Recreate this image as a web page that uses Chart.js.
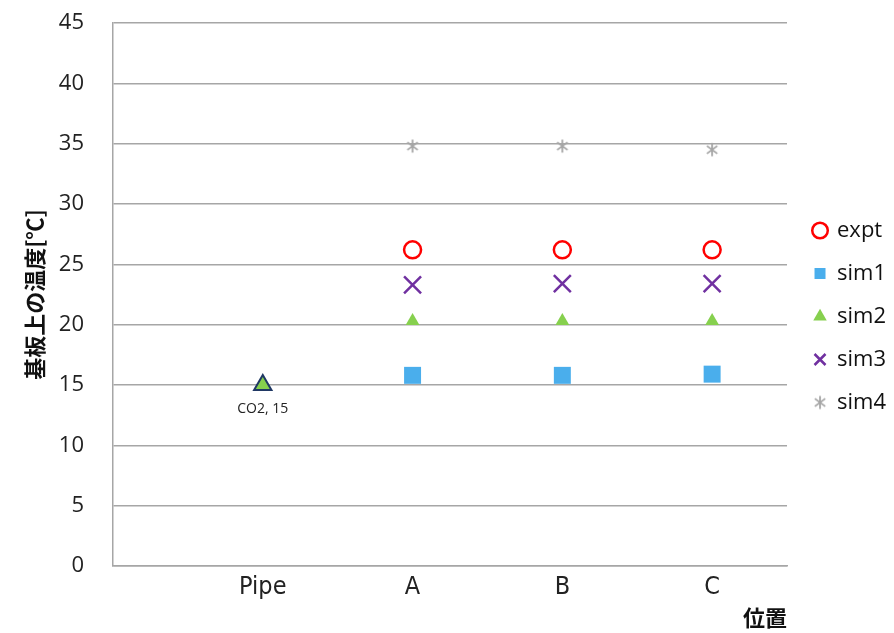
<!DOCTYPE html>
<html lang="ja">
<head>
  <meta charset="UTF-8" />
  <title>基板上の温度</title>
  <script src="https://cdn.jsdelivr.net/npm/chart.js"></script>
  <style>
    * { box-sizing: border-box; }
    html, body { margin: 0; padding: 0; background: #ffffff; }
    .wrap { width: 894px; height: 633px; position: relative; }
  </style>
</head>
<body>
  <div class="wrap">
    <canvas id="grafico" width="894" height="633"></canvas>
  </div>

  <script>
    // dados
    const categorias = ['Pipe', 'A', 'B', 'C'];
    const pipeValor = 15;
    const pipeRotulo = 'CO2, 15';
    const expt = [26.2, 26.2, 26.2];
    const sim1 = [15.8, 15.8, 15.9];
    const sim2 = [20.3, 20.3, 20.3];
    const sim3 = [23.3, 23.4, 23.4];
    const sim4 = [34.8, 34.8, 34.5];
    const yTicks = [0, 5, 10, 15, 20, 25, 30, 35, 40, 45];

    // posições A, B, C = 2, 3, 4 (Pipe = 1)
    function pontos(vals) {
      return vals.map((v, i) => ({ x: i + 2, y: v }));
    }

    const fonteNum = "'Open Sans', 'Noto Sans', sans-serif";
    const fonteJp = "'Noto Sans CJK JP', sans-serif";

    // asterisco estilo Excel (vertical + X)
    function asterisco(tam, cor) {
      const c = document.createElement('canvas');
      c.width = tam; c.height = tam;
      const g = c.getContext('2d');
      const m = tam / 2, r = tam / 2 - 1.5;
      g.strokeStyle = cor;
      g.lineWidth = 1.8;
      g.beginPath();
      g.moveTo(m, m - r); g.lineTo(m, m + r);
      const d = r * 0.8;
      g.moveTo(m - d, m - d * 0.75); g.lineTo(m + d, m + d * 0.75);
      g.moveTo(m + d, m - d * 0.75); g.lineTo(m - d, m + d * 0.75);
      g.stroke();
      return c;
    }
    const estrela = asterisco(16, '#a6a6a6');

    // rótulo "CO2, 15" embaixo do ponto Pipe
    const rotuloPipe = {
      id: 'rotuloPipe',
      afterDatasetsDraw(chart) {
        const x = chart.scales.x.getPixelForValue(1);
        const y = chart.scales.y.getPixelForValue(pipeValor);
        const ctx = chart.ctx;
        ctx.save();
        ctx.font = "14px " + fonteNum;
        ctx.fillStyle = '#222';
        ctx.textAlign = 'center';
        ctx.textBaseline = 'middle';
        ctx.fillText(pipeRotulo, x, y + 24);
        ctx.restore();
      }
    };

    // empurra a legenda um pouco pra direita
    const ajusteLegenda = {
      id: 'ajusteLegenda',
      afterLayout(chart) {
        const lg = chart.legend;
        if (lg) { lg.left += 6; lg.right += 6; }
      }
    };

    const ctx = document.getElementById('grafico').getContext('2d');
    new Chart(ctx, {
      type: 'scatter',
      data: {
        datasets: [
          {
            label: 'expt', data: pontos(expt), pointStyle: 'circle',
            pointRadius: 8.5, borderColor: '#ff0000', backgroundColor: 'rgba(0,0,0,0)',
            borderWidth: 2.5
          },
          {
            label: 'sim1', data: pontos(sim1), pointStyle: 'rect',
            pointRadius: 12, borderColor: '#4aaeec', backgroundColor: '#4aaeec',
            borderWidth: 0
          },
          {
            label: 'sim2', data: pontos(sim2), pointStyle: 'triangle',
            pointRadius: 8, borderColor: '#86d04e', backgroundColor: '#86d04e',
            borderWidth: 0
          },
          {
            label: 'sim3', data: pontos(sim3), pointStyle: 'crossRot',
            pointRadius: 12, borderColor: '#7030a0', backgroundColor: '#7030a0',
            borderWidth: 2.5
          },
          {
            label: 'sim4', data: pontos(sim4), pointStyle: estrela,
            pointRadius: 8, borderColor: '#a6a6a6', backgroundColor: '#a6a6a6',
            borderWidth: 1.8
          },
          {
            label: 'CO2', data: [{ x: 1, y: pipeValor }], pointStyle: 'triangle',
            pointRadius: 10, borderColor: '#203864', backgroundColor: '#86d04e',
            borderWidth: 2
          }
        ]
      },
      options: {
        responsive: false,
        animation: false,
        layout: { padding: { top: 0, right: 4, bottom: 0, left: 0 } },
        plugins: {
          legend: {
            position: 'right',
            labels: {
              usePointStyle: true,
              boxWidth: 12,
              boxHeight: 11,
              color: '#111',
              font: { family: fonteNum, size: 22 },
              padding: 21,
              filter: (item) => item.text !== 'CO2'
            }
          },
          tooltip: { enabled: false }
        },
        scales: {
          x: {
            type: 'linear',
            min: 0,
            max: 4.5,
            afterBuildTicks: (scale) => {
              scale.ticks = categorias.map((c, i) => ({ value: i + 1 }));
            },
            afterFit: (scale) => { scale.height = 67; },
            grid: { display: false, drawTicks: false },
            border: { display: true, color: '#a6a6a6', width: 1.5 },
            ticks: {
              color: '#222',
              padding: 6,
              font: { family: "'Liberation Sans Narrow', 'DejaVu Sans Condensed', sans-serif", size: 25 },
              callback: (v) => categorias[v - 1] || ''
            },
            title: {
              display: true,
              text: '位置',
              align: 'end',
              color: '#111',
              font: { family: fonteJp, size: 22, weight: 'bold' },
              padding: { top: 0, bottom: 2 }
            }
          },
          y: {
            min: 0,
            max: 45,
            afterBuildTicks: (scale) => {
              scale.ticks = yTicks.map(v => ({ value: v }));
            },
            afterFit: (scale) => {
              scale.width = 113;
              scale.paddingTop = 23;
              scale.paddingBottom = 0;
            },
            grid: { color: '#a6a6a6', lineWidth: 1.5, drawTicks: false },
            border: { display: true, color: '#a6a6a6', width: 1.5 },
            ticks: {
              color: '#222',
              padding: 29,
              font: { family: fonteNum, size: 22 }
            },
            title: {
              display: true,
              text: '基板上の温度[℃]',
              color: '#111',
              font: { family: fonteJp, size: 22, weight: 'bold' },
              padding: { top: 21, bottom: 0 }
            }
          }
        }
      },
      plugins: [rotuloPipe, ajusteLegenda]
    });
  </script>
</body>
</html>
